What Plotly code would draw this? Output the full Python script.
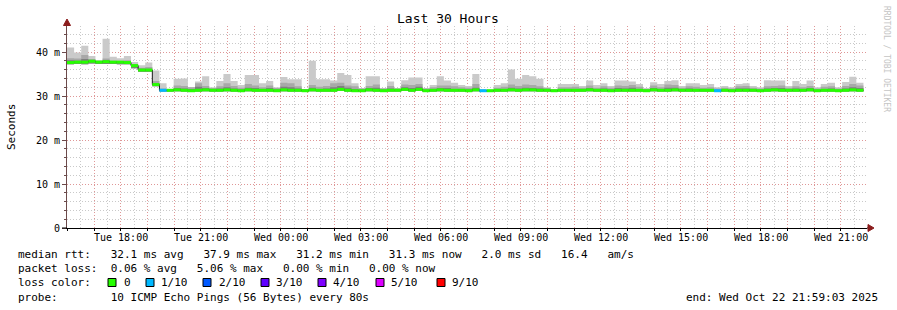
import plotly.graph_objects as go
import pandas as pd

# ---------------- data ----------------
START = "2025-10-21 15:59:03"
END = "2025-10-22 21:59:03"
BIN = "16min"

median_rtt = [
    37.6, 37.7, 37.7, 37.9, 37.7, 37.8, 37.7, 37.7, 37.6, 36.9, 35.9, 35.9, 32.6,
    31.3, 31.3, 31.4, 31.3, 31.2, 31.3, 31.4, 31.3, 31.3, 31.4,
    31.3, 31.2, 31.4, 31.3, 31.3, 31.3, 31.2, 31.4, 31.3, 31.3,
    31.2, 31.4, 31.3, 31.3, 31.3, 31.5, 31.3, 31.2, 31.2, 31.4,
    31.3, 31.2, 31.3, 31.3, 31.5, 31.3, 31.5, 31.2, 31.3, 31.4,
    31.3, 31.3, 31.3, 31.2, 31.4, 31.2, 31.2, 31.3, 31.3, 31.4,
    31.3, 31.4, 31.4, 31.3, 31.3, 31.2, 31.3, 31.3, 31.3, 31.3,
    31.4, 31.3, 31.3, 31.2, 31.3, 31.3, 31.3, 31.3, 31.2, 31.4,
    31.3, 31.3, 31.4, 31.3, 31.3, 31.3, 31.3, 31.3, 31.2, 31.3,
    31.2, 31.3, 31.3, 31.3, 31.2, 31.3, 31.4, 31.3, 31.3, 31.3,
    31.3, 31.4, 31.2, 31.3, 31.3, 31.2, 31.3, 31.4, 31.3,
]

smoke_max = [
    41.0, 39.9, 41.4, 39.1, 38.2, 43.0, 38.9, 38.6, 39.1, 37.7, 37.0, 37.6, 35.8,
    32.9, 31.5, 33.9, 34.0, 32.0, 33.3, 34.5, 32.0, 33.4, 35.0,
    33.4, 32.5, 34.8, 34.8, 32.9, 33.4, 32.0, 34.3, 33.8, 33.8,
    31.6, 38.0, 33.8, 33.8, 33.5, 35.2, 34.8, 32.9, 31.8, 34.5,
    34.5, 31.8, 33.3, 31.8, 33.6, 34.2, 34.2, 31.8, 32.5, 34.5,
    33.5, 33.0, 32.5, 32.3, 35.0, 31.5, 31.4, 32.5, 32.9, 36.0,
    33.9, 34.8, 34.5, 33.9, 32.0, 31.6, 32.7, 32.7, 32.7, 32.3,
    33.5, 32.5, 32.9, 32.3, 33.5, 33.5, 33.3, 32.7, 31.8, 33.1,
    32.7, 33.4, 33.6, 32.3, 32.9, 32.9, 32.5, 32.7, 32.0, 32.3,
    32.0, 32.7, 32.9, 32.3, 32.0, 33.6, 33.5, 33.5, 32.3, 33.4,
    32.7, 33.5, 32.0, 32.7, 33.0, 32.0, 33.2, 34.4, 33.0,
]

smoke_mid = [
    38.6, 38.5, 39.3, 38.4, 37.9, 38.5, 38.0, 37.9, 38.1, 37.3, 36.4, 36.6, 33.4,
    31.7, 31.5, 32.4, 32.3, 32.0, 32.9, 32.3, 31.8, 32.2, 32.9,
    32.3, 31.9, 32.7, 32.4, 32.0, 32.4, 31.8, 33.0, 32.9, 32.2,
    31.6, 32.5, 32.1, 32.3, 32.9, 33.0, 32.4, 32.2, 31.7, 32.3,
    32.6, 31.7, 32.3, 31.7, 32.6, 32.5, 32.7, 31.7, 32.0, 32.4,
    32.4, 32.2, 32.0, 31.9, 32.7, 31.5, 31.4, 31.9, 32.1, 32.6,
    32.3, 32.6, 32.5, 32.2, 31.8, 31.5, 32.0, 32.0, 32.1, 31.9,
    32.4, 31.9, 32.2, 31.9, 32.4, 32.3, 32.5, 32.1, 31.6, 32.4,
    32.0, 32.6, 32.5, 31.9, 32.2, 32.1, 31.9, 32.0, 31.7, 31.9,
    31.7, 32.2, 32.3, 31.9, 31.7, 32.2, 32.3, 32.4, 31.9, 32.2,
    32.0, 32.3, 31.7, 32.1, 32.2, 31.7, 32.3, 32.7, 32.4,
]

smoke_inner = [
    38.1, 38.0, 38.4, 38.2, 37.9, 38.1, 37.9, 37.9, 37.8, 37.1, 36.2, 36.2, 32.9,
    31.5, 31.4, 31.8, 31.7, 31.6, 32.1, 31.8, 31.5, 31.7, 32.0,
    31.7, 31.5, 31.9, 31.8, 31.6, 31.8, 31.5, 32.1, 32.0, 31.7,
    31.4, 31.9, 31.6, 31.7, 32.0, 32.3, 31.9, 31.6, 31.4, 31.8,
    31.9, 31.4, 31.7, 31.5, 32.0, 31.8, 32.1, 31.4, 31.6, 31.8,
    31.8, 31.6, 31.6, 31.5, 31.9, 31.3, 31.3, 31.5, 31.6, 31.9,
    31.7, 31.9, 31.8, 31.7, 31.5, 31.3, 31.6, 31.6, 31.6, 31.5,
    31.8, 31.5, 31.7, 31.5, 31.8, 31.7, 31.9, 31.6, 31.4, 31.8,
    31.6, 31.9, 31.9, 31.5, 31.7, 31.6, 31.5, 31.6, 31.4, 31.5,
    31.4, 31.7, 31.7, 31.5, 31.4, 31.7, 31.8, 31.8, 31.5, 31.7,
    31.6, 31.8, 31.4, 31.6, 31.7, 31.4, 31.7, 32.0, 31.8,
]

smoke_min = [
    37.2, 37.3, 37.2, 37.4, 37.3, 37.3, 37.3, 37.2, 37.2, 36.3, 35.5, 35.5, 32.2,
    31.0, 31.0, 31.1, 31.0, 30.9, 31.0, 31.1, 31.0, 31.0, 31.1,
    31.0, 30.9, 31.1, 31.0, 31.0, 31.0, 30.9, 31.1, 31.0, 31.0,
    30.9, 31.1, 31.0, 31.0, 31.0, 31.2, 31.0, 30.9, 30.9, 31.1,
    31.0, 30.9, 31.0, 31.0, 31.2, 31.0, 31.2, 30.9, 31.0, 31.1,
    31.0, 31.0, 31.0, 30.9, 31.1, 30.9, 30.9, 31.0, 31.0, 31.1,
    31.0, 31.1, 31.1, 31.0, 31.0, 30.9, 31.0, 31.0, 31.0, 31.0,
    31.1, 31.0, 31.0, 30.9, 31.0, 31.0, 31.0, 31.0, 30.9, 31.1,
    31.0, 31.0, 31.1, 31.0, 31.0, 31.0, 31.0, 31.0, 30.9, 31.0,
    30.9, 31.0, 31.0, 31.0, 30.9, 31.0, 31.1, 31.0, 31.0, 31.0,
    31.0, 31.1, 30.9, 31.0, 31.0, 30.9, 31.0, 31.1, 31.0,
]

loss_tenths = [0] * 112
for k in (13, 58, 91):
    loss_tenths[k] = 1

loss_levels = [0, 1, 2, 3, 4, 5, 9]
loss_labels = ["0", "1/10", "2/10", "3/10", "4/10", "5/10", "9/10"]
loss_colors = ["#26ff00", "#00b8ff", "#0059ff", "#5e00ff", "#7e00ff", "#dd00ff", "#ff0000"]

label_times = ["2025-10-21 18:00", "2025-10-21 21:00", "2025-10-22 00:00",
               "2025-10-22 03:00", "2025-10-22 06:00", "2025-10-22 09:00",
               "2025-10-22 12:00", "2025-10-22 15:00", "2025-10-22 18:00",
               "2025-10-22 21:00"]
label_texts = ["Tue 18:00", "Tue 21:00", "Wed 00:00", "Wed 03:00", "Wed 06:00",
               "Wed 09:00", "Wed 12:00", "Wed 15:00", "Wed 18:00", "Wed 21:00"]

y_tickvals = [0, 10, 20, 30, 40]
y_ticktext = ["0", "10 m", "20 m", "30 m", "40 m"]

# ---------------- geometry helpers ----------------
W, H = 897, 310
L, R, T, B = 67, 867, 26, 228


def px(x):
    return (x - L) / (R - L)


def py(y):
    return (B - y) / (B - T)


N = len(median_rtt)
edges = list(pd.date_range(START, periods=N + 1, freq=BIN))


def ext(a):
    return list(a) + [a[-1]]


fig = go.Figure()


def band(lo, hi, color):
    fig.add_trace(go.Scatter(x=edges, y=ext(lo), mode="lines",
                             line=dict(width=0, shape="hv"),
                             hoverinfo="skip", showlegend=False))
    fig.add_trace(go.Scatter(x=edges, y=ext(hi), mode="lines",
                             line=dict(width=0, shape="hv"), fill="tonexty",
                             fillcolor=color, hoverinfo="skip", showlegend=False))


band(smoke_min, smoke_max, "#cacaca")
band(smoke_min, smoke_mid, "#a8a8a8")
band(smoke_min, smoke_inner, "#7e7e7e")

# thin dark median (shows at the steps)
fig.add_trace(go.Scatter(x=edges, y=ext(median_rtt), mode="lines",
                         line=dict(color="#1a1a1a", width=1, shape="hv"),
                         hoverinfo="skip", showlegend=False))

# median band coloured by loss
for lvl, col in zip(loss_levels, loss_colors):
    xs, ys = [], []
    for k in range(N):
        if loss_tenths[k] == lvl:
            xs += [edges[k], edges[k + 1], None]
            ys += [median_rtt[k], median_rtt[k], None]
    if xs:
        fig.add_trace(go.Scatter(x=xs, y=ys, mode="lines",
                                 line=dict(color=col, width=3),
                                 hoverinfo="skip", showlegend=False))

# ---------------- axes ----------------
hours = list(pd.date_range("2025-10-21 16:00", "2025-10-22 21:00", freq="1h"))

MONO = "DejaVu Sans Mono"
RED_GRID = "rgba(240,110,110,0.55)"
GRAY_GRID = "rgba(165,165,165,0.6)"

fig.update_xaxes(
    type="date", range=[START, END],
    tickmode="array", tickvals=hours, ticktext=[""] * len(hours),
    showgrid=True, gridcolor=RED_GRID, griddash="1px,2px", gridwidth=1,
    minor=dict(tick0="2025-10-21 16:30", dtick=30 * 60 * 1000, showgrid=True,
               gridcolor=GRAY_GRID, griddash="1px,2px", gridwidth=1),
    showline=True, linecolor="#000000", linewidth=1,
    ticks="outside", ticklen=2, tickcolor="#000000",
    tickfont=dict(family=MONO, size=10, color="#000000"),
    zeroline=False, fixedrange=True,
)
fig.update_yaxes(
    range=[0, (B - T) / 4.4], tickmode="array",
    tickvals=y_tickvals, ticktext=y_ticktext,
    showgrid=True, gridcolor=RED_GRID, griddash="1px,2px", gridwidth=1,
    minor=dict(dtick=2, showgrid=True, gridcolor=GRAY_GRID,
               griddash="1px,2px", gridwidth=1, ticks="outside", ticklen=2,
               tickcolor="#6b4a4a"),
    showline=True, linecolor="#6b4a4a", linewidth=1,
    ticks="outside", ticklen=4, tickcolor="#6b4a4a",
    tickfont=dict(family=MONO, size=10, color="#000000"),
    zeroline=False, fixedrange=True,
)

# ---------------- decorations ----------------
ARROW = "#8b1c1c"
shapes = [
    dict(type="line", xref="paper", yref="paper", x0=px(62), x1=px(L),
         y0=0, y1=0, line=dict(color="#000000", width=1)),
    dict(type="line", xref="paper", yref="paper", x0=1, x1=px(869),
         y0=0, y1=0, line=dict(color="#000000", width=1)),
    dict(type="line", xref="paper", yref="paper", x0=0, x1=0,
         y0=1, y1=py(24), line=dict(color="#6b4a4a", width=1)),
    dict(type="path", xref="paper", yref="paper",
         path=f"M {px(63.5)},{py(25.5)} L {px(70.5)},{py(25.5)} L {px(67)},{py(19)} Z",
         fillcolor=ARROW, line=dict(color=ARROW, width=1)),
    dict(type="path", xref="paper", yref="paper",
         path=f"M {px(868)},{py(224.5)} L {px(868)},{py(231.5)} L {px(874)},{py(228)} Z",
         fillcolor=ARROW, line=dict(color=ARROW, width=1)),
]

sq_x = [108, 146, 203, 261, 318, 376, 437]
txt_x = [122, 159, 217, 274, 331, 389, 450]
for x0, col in zip(sq_x, loss_colors):
    shapes.append(dict(type="rect", xref="paper", yref="paper",
                       x0=px(x0), x1=px(x0 + 8), y0=py(286.5), y1=py(278.5),
                       fillcolor=col, line=dict(color="#000000", width=1)))

NB = "\u00a0"


def sp(s):
    return s.replace(" ", NB)


annotations = []


def text(x, y, s, size=11, anchor="left", color="#000000", angle=0, family=MONO):
    annotations.append(dict(xref="paper", yref="paper", x=px(x), y=py(y),
                            text=sp(s), showarrow=False, xanchor=anchor,
                            yanchor="middle", textangle=angle,
                            font=dict(family=family, size=size, color=color)))


# x tick labels placed at their times through the x scale
for t, s in zip(label_times, label_texts):
    annotations.append(dict(xref="x", yref="paper", x=t, y=py(237.5),
                            text=sp(s), showarrow=False, xanchor="center",
                            yanchor="middle",
                            font=dict(family=MONO, size=10, color="#000000")))

text(448, 19, "Last 30 Hours", size=13, anchor="center")
text(11, 127, "Seconds", size=11, anchor="center", angle=-90)
text(887, 59, "RRDTOOL / TOBI OETIKER", size=8, anchor="center",
     color="#c4c4c4", angle=90)

text(16, 254, "median rtt:   32.1 ms avg   37.9 ms max   31.2 ms min   31.3 ms now   2.0 ms sd   16.4   am/s")
text(16, 268.5, "packet loss:  0.06 % avg   5.06 % max   0.00 % min   0.00 % now")
text(16, 282.5, "loss color:")
for x0, lab in zip(txt_x, loss_labels):
    text(x0, 282.5, lab)
text(16, 297, "probe:        10 ICMP Echo Pings (56 Bytes) every 80s")
text(880, 297, "end: Wed Oct 22 21:59:03 2025", anchor="right")

fig.update_layout(
    width=W, height=H, autosize=False,
    margin=dict(l=L, r=W - R, t=T, b=H - B, pad=0),
    paper_bgcolor="#ffffff", plot_bgcolor="#ffffff",
    font=dict(family=MONO, size=10, color="#000000"),
    showlegend=False, shapes=shapes, annotations=annotations,
    hovermode=False,
)

fig.write_html("out.html", config={"displayModeBar": False})
